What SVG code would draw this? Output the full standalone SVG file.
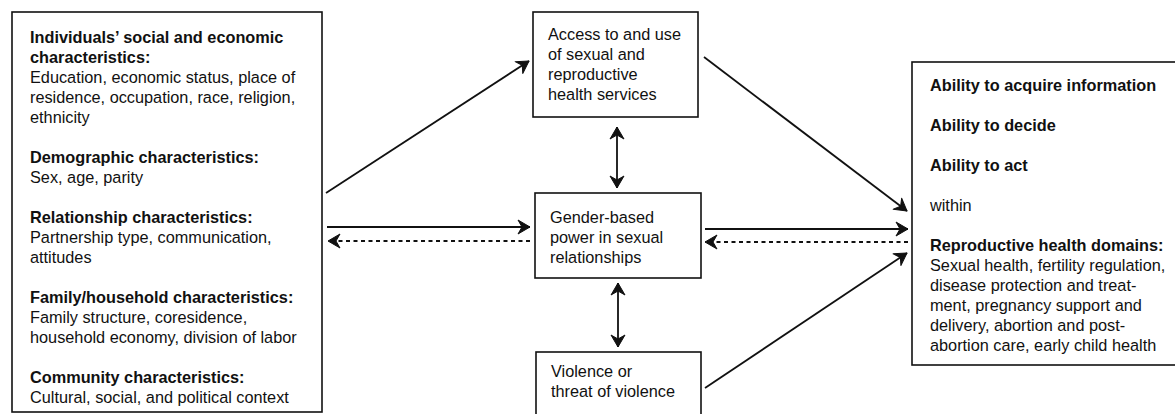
<svg xmlns="http://www.w3.org/2000/svg" width="1175" height="414" viewBox="0 0 1175 414">
<style>
text{font-family:"Liberation Sans",Arial,Helvetica,sans-serif;font-size:16.3px;fill:#111}
.b{font-weight:bold}
.box{fill:#fff;stroke:#111;stroke-width:1.6}
.c{fill:none;stroke:#111;stroke-width:1.8}
.d{stroke-dasharray:4 3.5}
</style>
<defs>
<marker id="ah" viewBox="-13 -8 14 16" markerWidth="14" markerHeight="16" refX="0" refY="0" orient="auto-start-reverse" markerUnits="userSpaceOnUse">
<path d="M-12,-7 L0,0 L-12,7 L-8,0 Z" fill="#111" stroke="#111" stroke-width="1" stroke-linejoin="round"/>
</marker>
</defs>
<g id="connectors">
<line class="c" x1="326" y1="193" x2="529" y2="61" marker-end="url(#ah)"/>
<line class="c" x1="327" y1="227" x2="530" y2="227" marker-end="url(#ah)"/>
<line class="c d" x1="530" y1="241" x2="328" y2="241" marker-end="url(#ah)"/>
<line class="c" x1="617" y1="127" x2="617" y2="188" marker-start="url(#ah)" marker-end="url(#ah)"/>
<line class="c" x1="618" y1="283" x2="618" y2="347" marker-start="url(#ah)" marker-end="url(#ah)"/>
<line class="c" x1="704" y1="57" x2="907" y2="211" marker-end="url(#ah)"/>
<line class="c" x1="705" y1="229" x2="908" y2="229" marker-end="url(#ah)"/>
<line class="c d" x1="908" y1="242" x2="705" y2="242" marker-end="url(#ah)"/>
<line class="c" x1="705" y1="388" x2="907" y2="253" marker-end="url(#ah)"/>
</g>
<g id="factors">
<rect class="box" x="12" y="12" width="310" height="400"/>
<text x="30" y="43" class="b">Individuals’ social and economic</text>
<text x="30" y="63" class="b">characteristics:</text>
<text x="30" y="83">Education, economic status, place of</text>
<text x="30" y="103">residence, occupation, race, religion,</text>
<text x="30" y="123">ethnicity</text>
<text x="30" y="163" class="b">Demographic characteristics:</text>
<text x="30" y="183">Sex, age, parity</text>
<text x="30" y="223" class="b">Relationship characteristics:</text>
<text x="30" y="243">Partnership type, communication,</text>
<text x="30" y="263">attitudes</text>
<text x="30" y="303" class="b">Family/household characteristics:</text>
<text x="30" y="323">Family structure, coresidence,</text>
<text x="30" y="343">household economy, division of labor</text>
<text x="30" y="383" class="b">Community characteristics:</text>
<text x="30" y="403">Cultural, social, and political context</text>
</g>
<g id="access">
<rect class="box" x="533" y="12" width="165" height="105"/>
<text x="548" y="40">Access to and use</text>
<text x="548" y="60">of sexual and</text>
<text x="548" y="80">reproductive</text>
<text x="548" y="100">health services</text>
</g>
<g id="power">
<rect class="box" x="535" y="193" width="166" height="85"/>
<text x="550" y="223">Gender-based</text>
<text x="550" y="243">power in sexual</text>
<text x="550" y="263">relationships</text>
</g>
<g id="violence">
<rect class="box" x="536" y="352" width="165" height="70"/>
<text x="551" y="377">Violence or</text>
<text x="551" y="397">threat of violence</text>
</g>
<g id="outcomes">
<rect class="box" x="912" y="62" width="275" height="303"/>
<text x="930" y="91" class="b">Ability to acquire information</text>
<text x="930" y="131" class="b">Ability to decide</text>
<text x="930" y="171" class="b">Ability to act</text>
<text x="930" y="211">within</text>
<text x="930" y="251" class="b">Reproductive health domains:</text>
<text x="930" y="271">Sexual health, fertility regulation,</text>
<text x="930" y="291">disease protection and treat-</text>
<text x="930" y="311">ment, pregnancy support and</text>
<text x="930" y="331">delivery, abortion and post-</text>
<text x="930" y="351">abortion care, early child health</text>
</g>
</svg>
